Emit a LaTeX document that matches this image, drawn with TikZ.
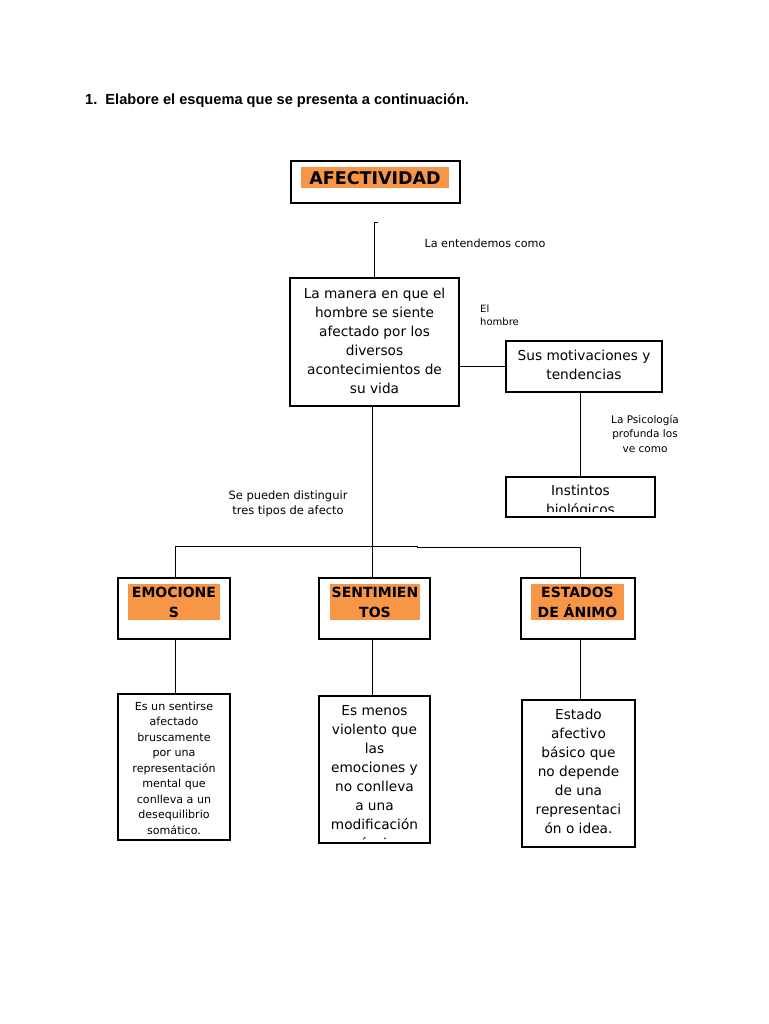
\documentclass[tikz,border=0pt]{standalone}
\usepackage{fontspec}
\setmainfont{DejaVu Sans}
\newfontfamily\arialfont{Liberation Sans}
\definecolor{orangeF}{RGB}{247,150,70}
\begin{document}
\begin{tikzpicture}[x=1pt,y=-1pt,
  bx/.style={draw, line width=2.5pt, inner sep=0pt},
  ln/.style={line width=0.9pt},
  orng/.style={fill=orangeF, inner sep=0pt},
  txt/.style={inner sep=0pt, align=center, font=\fontsize{13.7}{19}\selectfont},
  sm/.style={inner sep=0pt, align=center, font=\fontsize{10.5}{14.5}\selectfont},
  hd/.style={inner sep=0pt, align=center, font=\fontsize{14}{20}\selectfont\bfseries}]
\useasboundingbox (0,0) rectangle (768,1024);

% title
\node[anchor=west, inner sep=0pt, font=\arialfont\fontsize{14.6}{16}\selectfont\bfseries] (title) at (85,101) {1.\ \ Elabore el esquema que se presenta a continuación.};

% AFECTIVIDAD
\node[bx, minimum width=169pt, minimum height=42pt] (afbox) at (375.5,182) {};
\node[orng, minimum width=148pt, minimum height=21pt] (afor) at (375,177.5) {};
\node[inner sep=0pt, font=\fontsize{17.5}{20}\selectfont\bfseries] (aftxt) at (375,178) {AFECTIVIDAD};

\node[inner sep=0pt, font=\fontsize{11.2}{14}\selectfont] (entend) at (485,243) {La entendemos como};

% La manera
\node[bx, minimum width=169pt, minimum height=128pt] (manera) at (374.5,342) {};
\node[txt] (maneratxt) at (374.5,340.5) {La manera en que el\\hombre se siente\\afectado por los\\diversos\\acontecimientos de\\su vida};

\node[inner sep=0pt, align=left, anchor=west, font=\fontsize{10}{13}\selectfont] (hombre) at (480,315.5) {El\\hombre};

% Sus motivaciones
\node[bx, minimum width=156pt, minimum height=51pt] (sus) at (584,366.5) {};
\node[txt] (sustxt) at (584,365) {Sus motivaciones y\\tendencias};

\node[sm] (psico) at (645,433.5) {La Psicología\\profunda los\\ve como};

% Instintos
\node[bx, minimum width=149pt, minimum height=40pt] (inst) at (580.5,497) {};
\begin{scope}
  \clip (508,479) rectangle (653,511.5);
  \node[txt] (insttxt) at (580.5,501.5) {Instintos\\biológicos};
\end{scope}

\node[inner sep=0pt, align=center, font=\fontsize{11.5}{15}\selectfont] (sepueden) at (288,503.5) {Se pueden distinguir\\tres tipos de afecto};

% three category boxes
\node[bx, minimum width=112pt, minimum height=61pt] (emo) at (174,608.5) {};
\node[orng, minimum width=92pt, minimum height=36pt] (emoor) at (174,602) {};
\node[hd] (emotxt) at (174,602.5) {EMOCIONE\\S};

\node[bx, minimum width=111pt, minimum height=61pt] (senti) at (374.5,608.5) {};
\node[orng, minimum width=90pt, minimum height=36pt] (sentior) at (375,602) {};
\node[hd] (sentitxt) at (375,602.5) {SENTIMIEN\\TOS};

\node[bx, minimum width=114pt, minimum height=61pt] (est) at (578,608.5) {};
\node[orng, minimum width=93pt, minimum height=36pt] (estor) at (577.5,602) {};
\node[hd] (esttxt) at (577.5,602.5) {ESTADOS\\DE ÁNIMO};

% description boxes
\node[bx, minimum width=112pt, minimum height=146pt] (d1) at (174,767) {};
\node[inner sep=0pt, align=center, font=\fontsize{11.1}{15.5}\selectfont] (d1txt) at (174,768) {Es un sentirse\\afectado\\bruscamente\\por una\\representación\\mental que\\conlleva a un\\desequilibrio\\somático.};

\node[bx, minimum width=111pt, minimum height=147pt] (d2) at (374.5,769.5) {};
\begin{scope}
  \clip (321,698) rectangle (428,839);
  \node[txt] (d2txt) at (374.5,778.5) {Es menos\\violento que\\las\\emociones y\\no conlleva\\a una\\modificación\\psíquica};
\end{scope}

\node[bx, minimum width=113pt, minimum height=147pt] (d3) at (578.5,773.5) {};
\node[txt] (d3txt) at (578.5,771) {Estado\\afectivo\\básico que\\no depende\\de una\\representaci\\ón o idea.};

% connectors
\coordinate (topend) at (374,222);
\coordinate (xmid) at (372,0);
\coordinate (xright) at (580,0);
\coordinate (xleft) at (175,0);
\draw[ln] ([xshift=4pt]topend) -- (topend) -- (topend |- manera.north);
\draw[ln] (sus.west) -- (sus.west -| manera.east);
\draw[ln] (inst.north -| xright) -- (sus.south -| xright);
\draw[ln] (manera.south -| xmid) -- (senti.north -| xmid);
\coordinate (jn) at (417,546);
\draw[ln] (emo.north -| xleft) -- (jn -| xleft) -- (jn) -- ++(0,1) -- ([yshift=-1pt]jn -| xright) -- (est.north -| xright);
\draw[ln] (emo.south -| xleft) -- (d1.north -| xleft);
\draw[ln] (senti.south -| xmid) -- (d2.north -| xmid);
\draw[ln] (est.south -| xright) -- (d3.north -| xright);
\end{tikzpicture}
\end{document}
